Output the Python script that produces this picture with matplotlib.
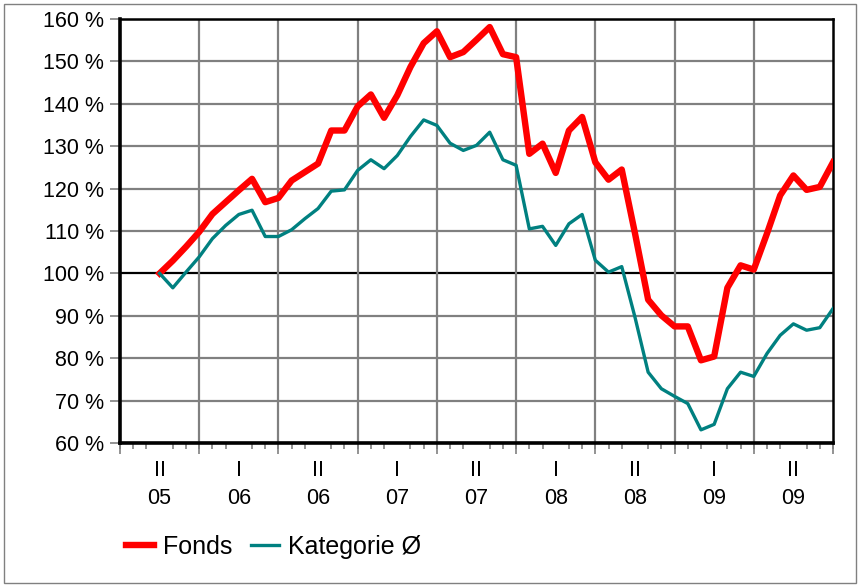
import matplotlib.pyplot as plt
from matplotlib.patches import Rectangle

plt.rcParams['font.family'] = ['Liberation Sans', 'DejaVu Sans']

# --- Data (month index 0 = start of July 2005) ---
months = list(range(3, 55))
fonds = [100, 103.0, 106.3, 109.8, 114.0, 116.8, 119.6, 122.3, 116.8, 117.8,
         121.9, 123.9, 125.9, 133.7, 133.7, 139.4, 142.2, 136.7, 142.0, 148.7,
         154.3, 157.1, 151.0, 152.2, 155.1, 158.1, 151.7, 151.0, 128.2, 130.6,
         123.7, 133.7, 136.9, 126.2, 122.1, 124.5, 109.5, 93.8, 90.1, 87.5,
         87.5, 79.5, 80.4, 96.6, 101.9, 100.9, 109.4, 118.4, 123.1, 119.7,
         120.4, 126.2]
kategorie = [100, 96.6, 100.3, 103.9, 108.2, 111.3, 113.9, 114.9, 108.7, 108.7,
             110.3, 112.9, 115.3, 119.4, 119.7, 124.3, 126.8, 124.7, 127.8, 132.3,
             136.2, 134.9, 130.7, 129.0, 130.2, 133.3, 126.8, 125.5, 110.5, 111.1,
             106.6, 111.7, 113.9, 103.1, 100.3, 101.6, 89.7, 76.7, 72.8, 71.0,
             69.3, 63.1, 64.4, 72.8, 76.7, 75.7, 81.1, 85.4, 88.1, 86.6,
             87.2, 91.7]
half_years = ['II\n05', 'I\n06', 'II\n06', 'I\n07', 'II\n07',
              'I\n08', 'II\n08', 'I\n09', 'II\n09']
y_ticks = list(range(60, 161, 10))

# --- Plotting ---
fig = plt.figure(figsize=(8.59, 5.87), dpi=100)
W, H = 859, 587
ax = fig.add_axes([120 / W, 1 - 443 / H, 713 / W, 424 / H])

# outer frame
fig.patches.append(Rectangle((4 / W, 4 / H), 852 / W, 579 / H, transform=fig.transFigure,
                             fill=False, edgecolor='#808080', lw=1))

n_months = 6 * len(half_years)
ax.set_xlim(0, n_months)
ax.set_ylim(60, 160)

# grid
for y in y_ticks:
    ax.axhline(y, color='black' if y == 100 else '#808080', lw=1.6, zorder=1)
for m in range(6, n_months, 6):
    ax.axvline(m, color='#808080', lw=1.6, zorder=1)

ax.plot(months, fonds, color='#FF0000', lw=4.6, label='Fonds', zorder=3)
ax.plot(months, kategorie, color='#008080', lw=2.4, label='Kategorie Ø', zorder=3)

# y axis
ax.set_yticks(y_ticks)
ax.set_yticklabels([f'{y} %' for y in y_ticks], fontsize=15.5)
ax.tick_params(axis='y', direction='out', length=7.5, width=1.2, color='#808080', pad=4)

# x axis: labels at half-year centers, month minor ticks, boundary ticks via secondary axis
ax.set_xticks([6 * i + 3 for i in range(len(half_years))])
ax.set_xticklabels(half_years, fontsize=15.5, linespacing=1.45)
ax.tick_params(axis='x', which='major', length=0, pad=12)
ax.set_xticks(range(0, n_months + 1), minor=True)
ax.tick_params(axis='x', which='minor', direction='out', length=4, width=1.2, color='#808080')
sec = ax.secondary_xaxis('bottom')
sec.set_xticks(range(0, n_months + 1, 6))
sec.set_xticklabels([])
sec.tick_params(direction='out', length=8, width=1.2, color='#808080')
sec.spines['bottom'].set_visible(False)

for side in ['left', 'bottom']:
    ax.spines[side].set_linewidth(2.6)
for side in ['top', 'right']:
    ax.spines[side].set_linewidth(1.8)

fig.legend(loc='center left', bbox_to_anchor=(126 / W, 1 - 547 / H), frameon=False,
           borderpad=0, borderaxespad=0, ncol=2, fontsize=18, handlelength=1.12,
           handletextpad=0.36, columnspacing=0.75)

fig.savefig('out.png', dpi=100)
